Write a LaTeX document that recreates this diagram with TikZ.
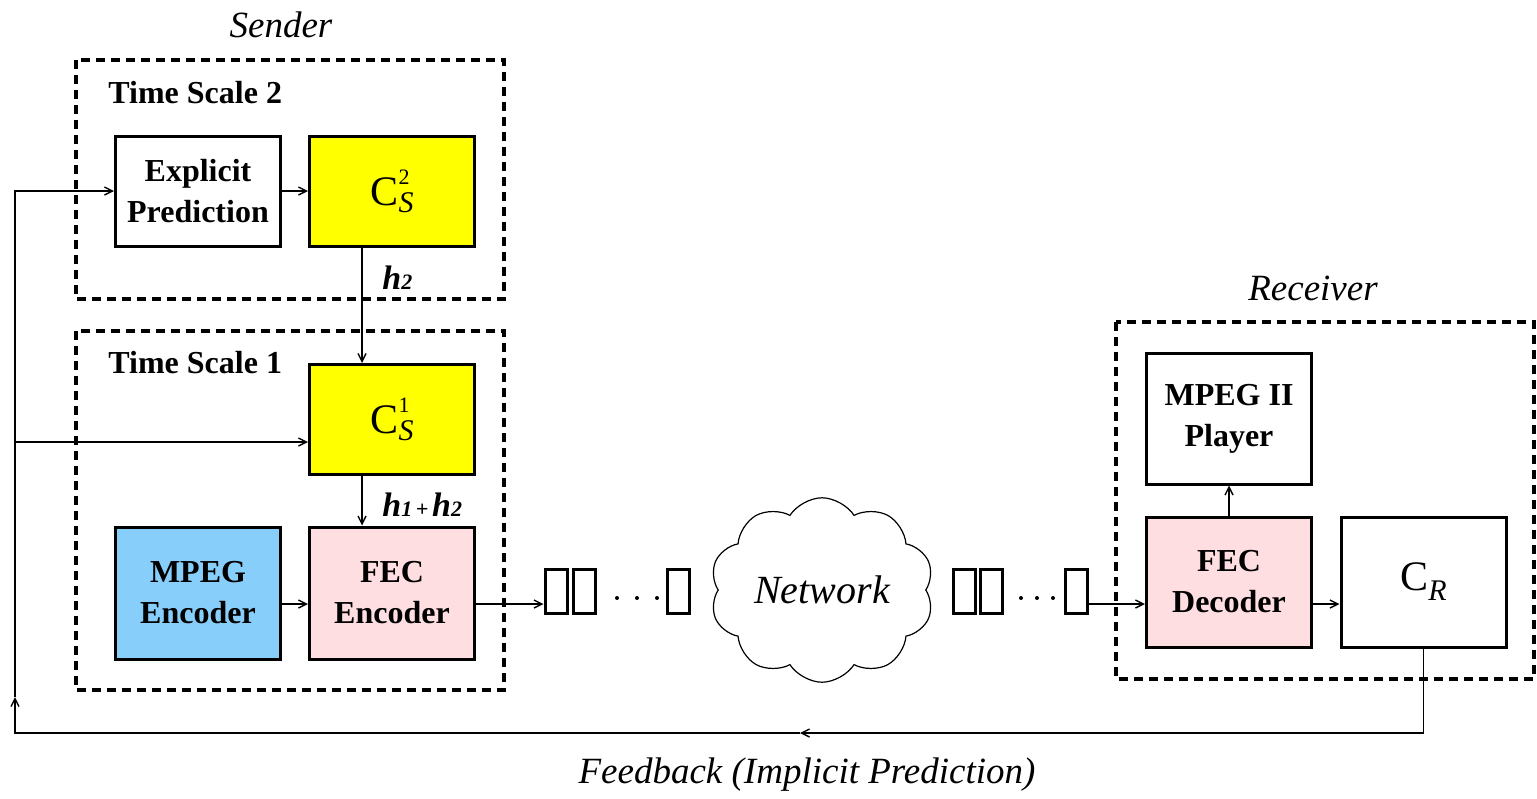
\documentclass[tikz,border=0pt]{standalone}
\usepackage{fontspec}
\setmainfont{Liberation Serif}
\usetikzlibrary{arrows.meta,shapes.symbols,calc}
\definecolor{cyell}{HTML}{FFFF00}
\definecolor{cblue}{HTML}{87CEFA}
\definecolor{cpink}{HTML}{FFDEE2}
\newcommand\blkfont{\fontsize{16}{20.5}\selectfont\bfseries}
\newcommand\itlab{\fontsize{18.5}{20}\selectfont\itshape}
\newcommand\CsSym[1]{{\fontsize{21}{21}\selectfont C}\makebox[0pt][l]{\raisebox{10.5pt}{\fontsize{11}{11}\selectfont #1}}\raisebox{-3.5pt}{\fontsize{15}{15}\selectfont\itshape S}}
\newcommand\CrSym{{\fontsize{21}{21}\selectfont C}\raisebox{-5pt}{\fontsize{15}{15}\selectfont\itshape R}}
\newcommand\hbig[1]{{\fontsize{17}{17}\selectfont\bfseries\itshape #1}}
\newcommand\hsmall[1]{{\fontsize{11}{11}\selectfont\bfseries\itshape #1}}
\begin{document}
\begin{tikzpicture}[x=0.5pt,y=-0.5pt,
  blk/.style={draw, line width=1.5pt, minimum width=82.5pt, minimum height=55pt, inner sep=0pt, align=center, font=\blkfont},
  grp/.style={draw, line width=1.6pt, dash pattern=on 4.5pt off 3pt},
  conn/.style={line width=0.7pt, -{Straight Barb[length=4pt,width=4pt]}},
  pkt/.style={draw, line width=1.5pt, minimum width=11pt, minimum height=22pt, inner sep=0pt},
  dotn/.style={circle, fill, inner sep=0pt, minimum size=2pt},
  lab/.style={inner sep=0pt}]
\useasboundingbox (0,0) rectangle (1537,798);

% group boxes
\draw[grp] (76,60) rectangle (504,299);
\draw[grp] (76,331) rectangle (504,690);
\draw[grp] (1116,322) rectangle (1534,679);

% labels
\node[lab, font=\itlab] (sender) at (281,25) {Sender};
\node[lab, font=\itlab] (receiver) at (1313,288) {Receiver};
\node[lab, font=\itlab] (feedback) at (807,775) {Feedback (Implicit Prediction)};
\node[lab, font=\blkfont, anchor=west] (ts2) at (108,93) {Time Scale 2};
\node[lab, font=\blkfont, anchor=west] (ts1) at (108,363) {Time Scale 1};

% sender blocks
\node[blk] (EP) at (198,191) {Explicit\\Prediction};
\node[blk, fill=cyell, font=\normalfont] (CS2) at (392,191) {\CsSym{2}};
\node[blk, fill=cyell, font=\normalfont] (CS1) at (392,419.5) {\CsSym{1}};
\node[blk, minimum height=66pt, fill=cblue] (MPEG) at (198,593) {MPEG\\Encoder};
\node[blk, minimum height=66pt, fill=cpink] (FECE) at (392,593) {FEC\\Encoder};

% receiver blocks
\node[blk, minimum height=65.5pt] (PL) at (1229,418.5) {MPEG II\\Player};
\node[blk, minimum height=65pt, fill=cpink] (FECD) at (1229,582) {FEC\\Decoder};
\node[blk, minimum height=65pt, font=\normalfont] (CR) at (1423.5,582) {\CrSym};

% edge labels
\node[lab, anchor=west] (h2lab) at (382,278) {\hbig{h}\hsmall{2}};
\node[lab, anchor=west] (h12lab) at (382,505) {\hbig{h}\hsmall{1}\hsmall{\,+\,}\hbig{h}\hsmall{2}};

% packets
\node[pkt] (p1) at (556,591) {};
\node[pkt] (p2) at (584,591) {};
\node[dotn] (d1) at (617,598) {};
\node[dotn] (d2) at (637,598) {};
\node[dotn] (d3) at (657,598) {};
\node[pkt] (p3) at (678,591) {};

\node[draw, shape=cloud, cloud puffs=10, cloud puff arc=115, aspect=1.2,
      minimum width=112pt, minimum height=92pt, line width=0.6pt, inner sep=0pt,
      font=\fontsize{20}{20}\selectfont\itshape] (net) at (822,590) {Network};

\node[pkt] (q1) at (964,591) {};
\node[pkt] (q2) at (991,591) {};
\node[dotn] (e1) at (1021,598) {};
\node[dotn] (e2) at (1037,598) {};
\node[dotn] (e3) at (1053,598) {};
\node[pkt] (q3) at (1076,591) {};

% helper coordinates
\coordinate (lvl) at (0,604);
\coordinate (vx) at (362,0);
\coordinate (fbBR) at (1423.5,733);
\coordinate (fbMid) at (800,733);
\coordinate (fbBL) at (15,733);
\coordinate (fbUp) at (15,697);
\coordinate (fbBranch) at (15,442);

% connectors
\draw[conn] (EP.east) -- (CS2.west);
\draw[conn] (CS2.south -| vx) -- (CS1.north -| vx);
\draw[conn] (CS1.south -| vx) -- (FECE.north -| vx);
\draw[conn] (MPEG.east |- lvl) -- (FECE.west |- lvl);
\draw[conn] (FECE.east |- lvl) -- (p1.west |- lvl);
\draw[conn] (q3.east |- lvl) -- (FECD.west |- lvl);
\draw[conn] (FECD.east |- lvl) -- (CR.west |- lvl);
\draw[conn] (FECD.north) -- (PL.south);

% feedback
\draw[conn] (CR.south) -- (fbBR) -- (fbMid);
\draw[conn] (fbMid) -- (fbBL) -- (fbUp);
\draw[conn] (fbUp) |- (EP.west);
\draw[conn] (fbBranch) -- (CS1.west |- fbBranch);
\end{tikzpicture}
\end{document}
